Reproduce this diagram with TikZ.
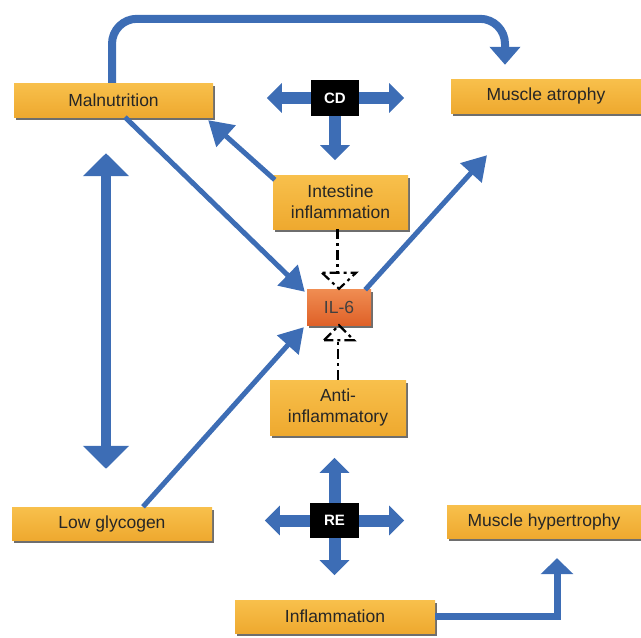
\documentclass[tikz,border=0pt]{standalone}
\usepackage{fontspec}
\setmainfont{Liberation Sans}
\usepackage{tikz}
\usetikzlibrary{arrows.meta, shadows}
\definecolor{boxtop}{HTML}{F8C04C}
\definecolor{boxbot}{HTML}{EEA92F}
\definecolor{iltop}{HTML}{F08D52}
\definecolor{ilbot}{HTML}{DF6128}
\definecolor{arrblue}{HTML}{3D6DB5}
\definecolor{shadowgray}{HTML}{6E6E6E}

\begin{document}
\begin{tikzpicture}[
    x=1pt, y=-1pt,
    box/.style   = {rectangle, top color=boxtop, bottom color=boxbot, inner sep=0pt,
                    drop shadow={shadow xshift=2pt, shadow yshift=-3pt, fill=shadowgray, opacity=1},
                    align=center, text=black!85, font=\fontsize{17.5}{21}\selectfont},
    ilbox/.style = {box, top color=iltop, bottom color=ilbot, text=black!75},
    blk/.style   = {rectangle, fill=black, inner sep=0pt, text=white,
                    font=\fontsize{15}{17}\selectfont\bfseries},
    barr/.style  = {-{Triangle[width=28pt,length=24pt]}, line width=5pt, draw=arrblue},
    fat/.style   = {-{Triangle[width=29pt,length=15pt]}, line width=12pt, draw=arrblue},
    dd/.style    = {line width=2.2pt, dash pattern=on 10pt off 4pt on 3pt off 4pt}
  ]
  \useasboundingbox (0,0) rectangle (641,638);

  % Boxes
  \node[box, minimum width=199pt, minimum height=34pt] (maln)    at (113.5,100)  {Malnutrition};
  \node[box, minimum width=190pt, minimum height=34pt] (atrophy) at (546,96)     {Muscle atrophy};
  \node[box, minimum width=135pt, minimum height=54pt] (intest)  at (340.5,202)  {Intestine\\inflammation};
  \node[ilbox, minimum width=64pt, minimum height=36pt] (il6)    at (339,307)    {IL-6};
  \node[box, minimum width=136pt, minimum height=55pt] (antiinf) at (338,407.5)  {Anti-\\inflammatory};
  \node[box, minimum width=200pt, minimum height=33pt] (lowgly)  at (112,523.5)  {Low glycogen};
  \node[box, minimum width=194pt, minimum height=33pt] (hypertr) at (544,521.5)  {Muscle hypertrophy};
  \node[box, minimum width=200pt, minimum height=33pt] (inflam)  at (335,616.5)  {Inflammation};
  \node[blk, minimum width=48pt, minimum height=36pt]  (cd)      at (335,98)     {CD};
  \node[blk, minimum width=49pt, minimum height=35pt]  (re)      at (334.5,520.5) {RE};

  % CD and RE block arrows
  \draw[fat] (cd.west)  -- ([xshift=-44pt]cd.west);
  \draw[fat] (cd.east)  -- ([xshift=45pt]cd.east);
  \draw[fat] (cd.south) -- ([yshift=-44pt]cd.south);
  \draw[fat] (re.north) -- ([yshift=45pt]re.north);
  \draw[fat] (re.south) -- ([yshift=-37pt]re.south);
  \draw[fat] (re.west)  -- ([xshift=-45pt]re.west);
  \draw[fat] (re.east)  -- ([xshift=45pt]re.east);

  % Blue connectors
  \draw[barr, line width=8pt, rounded corners=25pt, -{Triangle[width=30pt,length=18pt]}]
    ([xshift=-1.5pt]maln.north) -- ++(0,-64) -| ([xshift=-41pt,yshift=14pt]atrophy.north);
  \draw[{Triangle[width=45pt,length=23pt]}-{Triangle[width=45pt,length=23pt]}, line width=10pt, draw=arrblue,
        shorten <=36pt, shorten >=38pt]
    ([xshift=-7.5pt]maln.south) -- ([xshift=-6pt]lowgly.north);
  \draw[barr] ([xshift=11.5pt]maln.south) -- ([xshift=-2pt,yshift=-3pt]il6.north west);
  \draw[barr] ([xshift=2pt,yshift=-5pt]intest.north west) -- ([xshift=-5pt,yshift=-3pt]maln.south east);
  \draw[barr] ([xshift=-6pt,yshift=-1pt]il6.north east) -- ([xshift=-59pt,yshift=-42pt]atrophy.south);
  \draw[barr] ([xshift=31pt]lowgly.north) -- ([xshift=-3pt,yshift=-2pt]il6.south west);
  \draw[barr, line width=7pt, -{Triangle[width=32pt,length=16pt]}]
    (inflam.east) -| ([xshift=13pt,yshift=-20pt]hypertr.south);

  % Dash-dot arrows to IL-6
  \draw[dd] ([xshift=-3pt]intest.south) -- ([xshift=-3pt,yshift=16pt]intest.south |- il6.north);
  \draw[dd] ([xshift=-17pt,yshift=16pt]il6.north) -- (il6.north) -- ([xshift=17pt,yshift=16pt]il6.north) -- cycle;
  \draw[dd] (antiinf.north) -- ([yshift=-15pt]antiinf.north |- il6.south);
  \draw[dd] ([xshift=-15pt,yshift=-15pt]il6.south) -- (il6.south) -- ([xshift=15pt,yshift=-15pt]il6.south) -- cycle;
\end{tikzpicture}
\end{document}
